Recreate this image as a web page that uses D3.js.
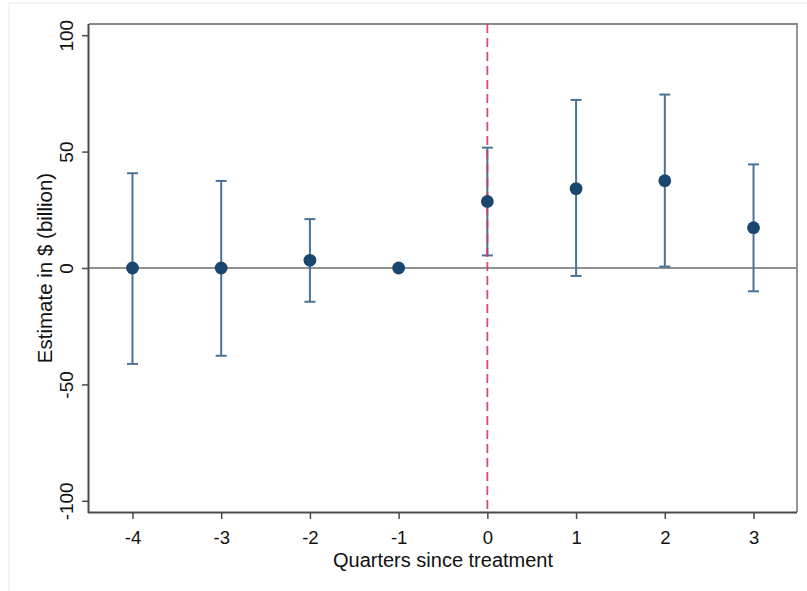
<!DOCTYPE html>
<html>
<head>
<meta charset="utf-8">
<script src="https://cdn.jsdelivr.net/npm/d3@7"></script>
<style>
  html, body { margin: 0; padding: 0; background: #ffffff; }
  svg { display: block; font-family: "Liberation Sans", Arial, sans-serif; }
</style>
</head>
<body>
<svg id="chart" width="807" height="591"></svg>
<script>
// ---- data ----
const quarters = [-4, -3, -2, -1, 0, 1, 2, 3];
const estimates = [0, 0, 3.3, 0, 28.6, 34.1, 37.5, 17.3];
const ciLower = [-41.2, -37.7, -14.5, null, 5.4, -3.4, 0.6, -10.0];
const ciUpper = [40.7, 37.4, 21.0, null, 51.7, 72.2, 74.5, 44.5];
const yTicks = [-100, -50, 0, 50, 100];
const xTicks = [-4, -3, -2, -1, 0, 1, 2, 3];
const xTitle = "Quarters since treatment";
const yTitle = "Estimate in $ (billion)";
const treatmentAt = 0;

// ---- layout ----
const svg = d3.select("#chart");
const W = 807, H = 591;
const plot = { left: 89, right: 797, top: 24, bottom: 512 };

const x = d3.scaleLinear().domain([-4.49, 3.49]).range([plot.left, plot.right]);
const y = d3.scaleLinear().domain([-104.8, 104.8]).range([plot.bottom, plot.top]);

// faint outer frame
svg.append("rect").attr("x", 9).attr("y", 3).attr("width", W).attr("height", H)
  .attr("fill", "none").attr("stroke", "#edf2f2").attr("stroke-width", 1.5);

// plot background
svg.append("rect").attr("x", plot.left).attr("y", plot.top)
  .attr("width", plot.right - plot.left).attr("height", plot.bottom - plot.top)
  .attr("fill", "#ffffff");

// zero line
svg.append("line")
  .attr("x1", plot.left).attr("x2", plot.right)
  .attr("y1", y(0)).attr("y2", y(0))
  .attr("stroke", "#6e6e6e").attr("stroke-width", 1.6);

// top and right frame
svg.append("path")
  .attr("d", `M${plot.left},${plot.top}H${plot.right}V${plot.bottom}`)
  .attr("fill", "none").attr("stroke", "#8a8a8a").attr("stroke-width", 1.8);

// axes
const xAxis = d3.axisBottom(x).tickValues(xTicks).tickSize(7).tickPadding(6)
  .tickFormat(d => d < 0 ? "-" + Math.abs(d) : String(d));
const gx = svg.append("g").attr("transform", `translate(0,${plot.bottom})`).call(xAxis);
gx.select(".domain").attr("d", `M${plot.left - 1},0.5H${plot.right}`)
  .attr("stroke", "#4a4a4a").attr("stroke-width", 2);
gx.selectAll(".tick line").attr("stroke", "#4a4a4a").attr("stroke-width", 1.5);
gx.selectAll(".tick text").attr("font-size", "18.5px").attr("fill", "#111")
  .attr("font-family", "'Liberation Sans', Arial, sans-serif")
  .attr("dy", null).attr("y", 32);

const yAxis = d3.axisLeft(y).tickValues(yTicks).tickSize(7).tickFormat(d => d < 0 ? "-" + Math.abs(d) : String(d));
const gy = svg.append("g").attr("transform", `translate(${plot.left},0)`).call(yAxis);
gy.select(".domain").attr("d", `M-0.5,${plot.top}V${plot.bottom + 1}`)
  .attr("stroke", "#4a4a4a").attr("stroke-width", 2);
gy.selectAll(".tick line").attr("stroke", "#4a4a4a").attr("stroke-width", 1.5);
gy.selectAll(".tick text").attr("font-size", "19px").attr("fill", "#111")
  .attr("font-family", "'Liberation Sans', Arial, sans-serif")
  .attr("x", null).attr("dy", null)
  .attr("text-anchor", "middle")
  .attr("transform", "translate(-16,0) rotate(-90)");

// axis titles
svg.append("text").attr("x", (plot.left + plot.right) / 2).attr("y", 567)
  .attr("text-anchor", "middle").attr("font-size", "20px").attr("fill", "#111")
  .text(xTitle);
svg.append("text")
  .attr("transform", `translate(52,${(plot.top + plot.bottom) / 2}) rotate(-90)`)
  .attr("text-anchor", "middle").attr("font-size", "20.5px").attr("fill", "#111")
  .text(yTitle);

// error bars
const rows = quarters.map((q, i) => ({ q, est: estimates[i], lo: ciLower[i], hi: ciUpper[i] }));
const ci = rows.filter(d => d.lo !== null);
const barColor = "#4c7296";
const capHalf = 5.5;
const gCI = svg.append("g");
gCI.selectAll("line.stem").data(ci).join("line").attr("class", "stem")
  .attr("x1", d => x(d.q)).attr("x2", d => x(d.q))
  .attr("y1", d => y(d.lo)).attr("y2", d => y(d.hi))
  .attr("stroke", barColor).attr("stroke-width", 2);
gCI.selectAll("line.capHi").data(ci).join("line").attr("class", "capHi")
  .attr("x1", d => x(d.q) - capHalf).attr("x2", d => x(d.q) + capHalf)
  .attr("y1", d => y(d.hi)).attr("y2", d => y(d.hi))
  .attr("stroke", barColor).attr("stroke-width", 2);
gCI.selectAll("line.capLo").data(ci).join("line").attr("class", "capLo")
  .attr("x1", d => x(d.q) - capHalf).attr("x2", d => x(d.q) + capHalf)
  .attr("y1", d => y(d.lo)).attr("y2", d => y(d.lo))
  .attr("stroke", barColor).attr("stroke-width", 2);

// treatment dashed line (drawn over the error bar, as in the reference)
svg.append("line")
  .attr("x1", x(treatmentAt)).attr("x2", x(treatmentAt))
  .attr("y1", plot.top).attr("y2", plot.bottom)
  .attr("stroke", "#d23a63").attr("stroke-width", 1.8)
  .attr("stroke-dasharray", "9,5")
  .attr("opacity", 0.9);

// points
svg.append("g").selectAll("circle").data(rows).join("circle")
  .attr("cx", d => x(d.q)).attr("cy", d => y(d.est)).attr("r", 6.4)
  .attr("fill", "#1a476f");
</script>
</body>
</html>
